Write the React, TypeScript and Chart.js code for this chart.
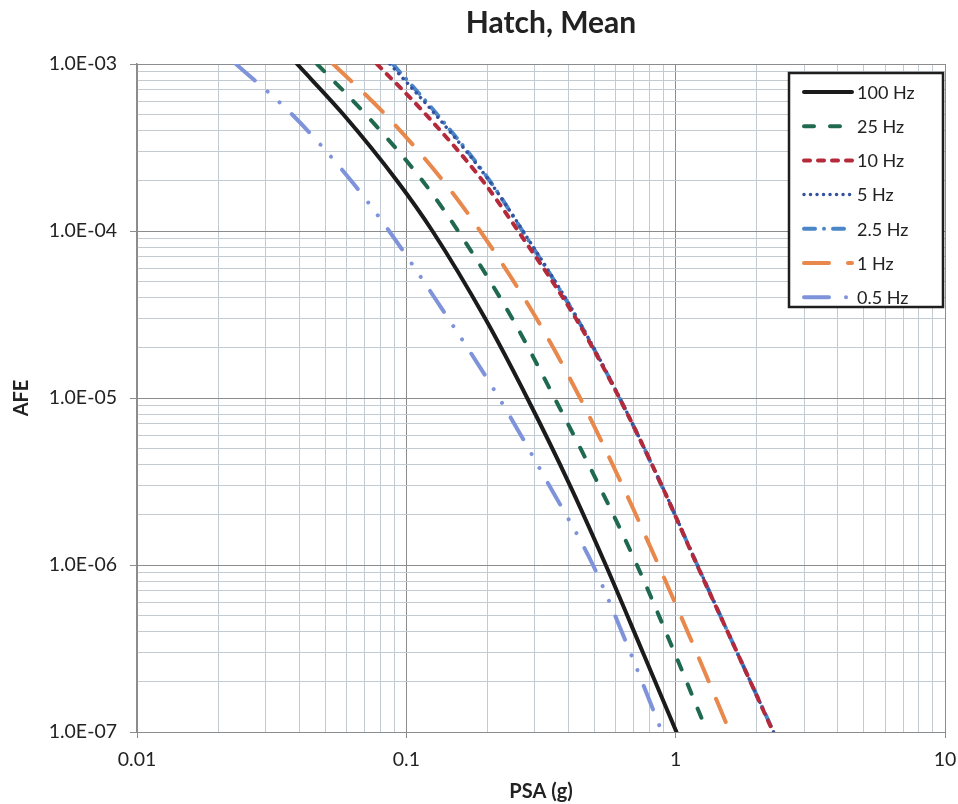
import React, { useEffect, useRef } from "react";
import { Chart, registerables } from "chart.js";

Chart.register(...registerables);

// ---------- data ----------
const CHART_TITLE = "Hatch, Mean";
const X_TITLE = "PSA (g)";
const Y_TITLE = "AFE";

const SERIES_NAMES = ["100 Hz", "25 Hz", "10 Hz", "5 Hz", "2.5 Hz", "1 Hz", "0.5 Hz"];

// Annual frequency of exceedance levels (shared y values)
const AFE = [1e-3, 5e-4, 2e-4, 1e-4, 3e-5, 1e-5, 3e-6, 1e-6, 3e-7, 1e-7];

// PSA (g) for each series at the AFE levels above
const PSA_100HZ = [0.0393, 0.0583, 0.0923, 0.125, 0.196, 0.281, 0.405, 0.55, 0.755, 1.007];
const PSA_25HZ = [0.0466, 0.0706, 0.1148, 0.1556, 0.247, 0.355, 0.519, 0.718, 0.989, 1.31];
const PSA_10HZ = [0.0778, 0.118, 0.192, 0.26, 0.4256, 0.618, 0.887, 1.2, 1.69, 2.3];
const PSA_5HZ = [0.0869, 0.128, 0.203, 0.271, 0.4315, 0.62, 0.888, 1.205, 1.69, 2.31];
const PSA_2_5HZ = [0.089, 0.13, 0.204, 0.27, 0.43, 0.619, 0.886, 1.203, 1.69, 2.31];
const PSA_1HZ = [0.0535, 0.0834, 0.1368, 0.188, 0.304, 0.4416, 0.634, 0.863, 1.194, 1.59];
const PSA_0_5HZ = [0.0233, 0.0376, 0.0624, 0.0863, 0.143, 0.221, 0.339, 0.493, 0.678, 0.889];

const X_MAJOR = [0.01, 0.1, 1, 10];
const X_TICK_LABELS = ["0.01", "0.1", "1", "10"];
const Y_MAJOR = [1e-7, 1e-6, 1e-5, 1e-4, 1e-3];
const Y_TICK_LABELS = ["1.0E-07", "1.0E-06", "1.0E-05", "1.0E-04", "1.0E-03"];

// ---------- styling ----------
const FONT = "Lato, 'Open Sans', 'DejaVu Sans', sans-serif";
const TEXT = "#222222";
const MAJOR_GRID = "#8c8c8c";
const MINOR_GRID = "#c2cad2";

const STYLES = [
  { color: "#1b1b1b", width: 4, dash: [] as number[], cap: "round" },
  { color: "#1f6a4f", width: 4, dash: [10, 16], cap: "round" },
  { color: "#b52a3b", width: 4, dash: [6, 8], cap: "round" },
  { color: "#34529f", width: 3.5, dash: [0.01, 6.5], cap: "round" },
  { color: "#4a86c8", width: 4, dash: [11, 9, 0.01, 9], cap: "round" },
  { color: "#e8884c", width: 4, dash: [25, 19], cap: "round" },
  { color: "#7f93da", width: 4, dash: [25, 17, 0.01, 16, 0.01, 17], cap: "round" },
];

const SERIES_VALUES = [PSA_100HZ, PSA_25HZ, PSA_10HZ, PSA_5HZ, PSA_2_5HZ, PSA_1HZ, PSA_0_5HZ];

const near = (a: number, b: number) => Math.abs(Math.log10(a) - Math.log10(b)) < 1e-6;

function logTicks(min: number, max: number) {
  const out: number[] = [];
  const e0 = Math.round(Math.log10(min));
  const e1 = Math.round(Math.log10(max));
  for (let e = e0; e < e1; e++) {
    for (let m = 1; m < 10; m++) out.push(parseFloat((m * Math.pow(10, e)).toPrecision(6)));
  }
  out.push(max);
  return out;
}

function labelFor(v: number, majors: number[], labels: string[]) {
  const i = majors.findIndex((m) => near(m, v));
  return i >= 0 ? labels[i] : "";
}

const isMajor = (v: number, majors: number[]) => majors.some((m) => near(m, v));

const titlePlugin = {
  id: "customTitle",
  afterDraw(chart: any) {
    const { ctx, chartArea } = chart;
    ctx.save();
    ctx.font = `bold 30px ${FONT}`;
    ctx.fillStyle = TEXT;
    ctx.textAlign = "center";
    ctx.textBaseline = "middle";
    ctx.fillText(CHART_TITLE, (chartArea.left + chartArea.right) / 2 + 10, 23);
    ctx.restore();
  },
};

const legendPlugin = {
  id: "boxLegend",
  afterDraw(chart: any) {
    const { ctx, chartArea } = chart;
    const ds = chart.data.datasets;
    const boxW = 154;
    const rowH = 34.2;
    const left = chartArea.right - 2 - boxW;
    const top = chartArea.top + 9;
    const boxH = 234;
    ctx.save();
    ctx.fillStyle = "#ffffff";
    ctx.fillRect(left, top, boxW, boxH);
    ctx.lineWidth = 2.5;
    ctx.strokeStyle = "#1e1e1e";
    ctx.setLineDash([]);
    ctx.strokeRect(left, top, boxW, boxH);
    ds.forEach((d: any, i: number) => {
      const y = top + 19 + i * rowH;
      ctx.beginPath();
      ctx.setLineDash(d.borderDash || []);
      ctx.lineCap = d.borderCapStyle || "butt";
      ctx.strokeStyle = d.borderColor;
      ctx.lineWidth = d.borderWidth;
      ctx.moveTo(left + 15, y);
      ctx.lineTo(left + 63, y);
      ctx.stroke();
      ctx.setLineDash([]);
      ctx.fillStyle = TEXT;
      ctx.font = `18px ${FONT}`;
      ctx.textAlign = "left";
      ctx.textBaseline = "middle";
      ctx.fillText(d.label, left + 68, y + 1);
    });
    ctx.restore();
  },
};

export default function App() {
  const ref = useRef<HTMLCanvasElement>(null);

  useEffect(() => {
    document.body.style.margin = "0";
    const datasets = SERIES_NAMES.map((name, i) => ({
      label: name,
      data: SERIES_VALUES[i].map((x, j) => ({ x, y: AFE[j] })),
      borderColor: STYLES[i].color,
      backgroundColor: STYLES[i].color,
      borderWidth: STYLES[i].width,
      borderDash: STYLES[i].dash,
      borderCapStyle: STYLES[i].cap,
      borderJoinStyle: "round",
      pointRadius: 0,
      fill: false,
      cubicInterpolationMode: "monotone",
    }));

    const chart = new Chart(ref.current as HTMLCanvasElement, {
      type: "line",
      data: { datasets: datasets as any },
      plugins: [titlePlugin, legendPlugin],
      options: {
        animation: false,
        responsive: false,
        maintainAspectRatio: false,
        layout: { padding: { top: 64, right: 13, left: 0, bottom: 0 } },
        plugins: {
          legend: { display: false },
          title: { display: false },
          tooltip: { enabled: false },
        },
        scales: {
          x: {
            type: "logarithmic",
            min: 0.01,
            max: 10,
            afterBuildTicks: (s: any) => {
              s.ticks = logTicks(0.01, 10).map((v) => ({ value: v, major: isMajor(v, X_MAJOR) }));
            },
            afterFit: (s: any) => {
              s.height = 72;
              s.paddingLeft = 0;
              s.paddingRight = 0;
            },
            ticks: {
              autoSkip: false,
              maxRotation: 0,
              padding: 10,
              color: TEXT,
              font: { family: FONT, size: 19.5 },
              callback: (v: any) => labelFor(Number(v), X_MAJOR, X_TICK_LABELS),
            },
            grid: {
              color: (c: any) => (isMajor(c.tick.value, X_MAJOR) ? MAJOR_GRID : MINOR_GRID),
              lineWidth: 1,
              tickLength: 6,
              tickColor: (c: any) => (isMajor(c.tick.value, X_MAJOR) ? MAJOR_GRID : "rgba(0,0,0,0)"),
            },
            border: { color: MAJOR_GRID, width: 1 },
            title: {
              display: true,
              text: X_TITLE,
              color: TEXT,
              font: { family: FONT, size: 20, weight: "bold" },
              padding: { top: 0, bottom: 0 },
            },
          },
          y: {
            type: "logarithmic",
            min: 1e-7,
            max: 1e-3,
            afterBuildTicks: (s: any) => {
              s.ticks = logTicks(1e-7, 1e-3).map((v) => ({ value: v, major: isMajor(v, Y_MAJOR) }));
            },
            afterFit: (s: any) => {
              s.width = 137;
            },
            ticks: {
              autoSkip: false,
              padding: 13,
              color: TEXT,
              font: { family: FONT, size: 19.5 },
              callback: (v: any) => labelFor(Number(v), Y_MAJOR, Y_TICK_LABELS),
            },
            grid: {
              color: (c: any) => (isMajor(c.tick.value, Y_MAJOR) ? MAJOR_GRID : MINOR_GRID),
              lineWidth: 1,
              tickLength: 7,
              tickColor: (c: any) => (isMajor(c.tick.value, Y_MAJOR) ? MAJOR_GRID : "rgba(0,0,0,0)"),
            },
            border: { color: MAJOR_GRID, width: 1.5 },
            title: {
              display: true,
              text: Y_TITLE,
              color: TEXT,
              font: { family: FONT, size: 20, weight: "bold" },
              padding: { top: 10, bottom: 0 },
            },
          },
        },
      } as any,
    });
    return () => chart.destroy();
  }, []);

  return (
    <div style={{ width: 958, height: 804 }}>
      <canvas ref={ref} width={958} height={804} style={{ display: "block" }} />
    </div>
  );
}
